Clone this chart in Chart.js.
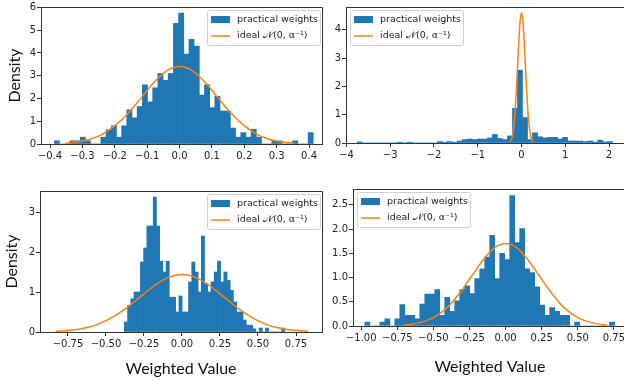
<!DOCTYPE html>
<html lang="en">
<head>
<meta charset="UTF-8" />
<title>Weight histograms</title>
<script src="https://cdn.jsdelivr.net/npm/chart.js@4.4.1/dist/chart.umd.min.js"></script>
<style>
  html, body { margin: 0; padding: 0; background: #fff; }
  body { width: 624px; height: 381px; overflow: hidden; position: relative; }
  canvas { position: absolute; }
</style>
</head>
<body>
<canvas id="c1" width="324" height="168" style="left:0;top:0"></canvas>
<canvas id="c2" width="327" height="168" style="left:300px;top:0"></canvas>
<canvas id="c3" width="324" height="211" style="left:0;top:170px"></canvas>
<canvas id="c4" width="307" height="211" style="left:320px;top:170px"></canvas>
<script>
// top-left panel
const binStartA = -0.387, binWidthA = 0.016;
const heightsA = [0.14, 0, 0, 0.14, 0.14, 0.3, 0.14, 0, 0, 0.3,
  0.62, 0.8, 0.3, 0.8, 1.5, 1.15, 1.65, 2.6, 1.85, 2.47,
  3.1, 2.8, 3.1, 5.3, 5.75, 3.95, 4.6, 4.3, 2.15, 2.6,
  1.6, 2.1, 1.45, 1.45, 0.7, 0.3, 0.5, 0.3, 0.65, 0.3,
  0, 0, 0.14, 0.14, 0, 0, 0.14, 0, 0, 0.5];
const curveXA = [-0.352, -0.313, -0.274, -0.235, -0.196, -0.156, -0.117, -0.078, -0.039, 0,
  0.039, 0.078, 0.117, 0.156, 0.196, 0.235, 0.274, 0.313, 0.352];
const curveYA = [0.04, 0.1, 0.22, 0.46, 0.85, 1.4, 2.06, 2.72, 3.22, 3.4,
  3.22, 2.72, 2.06, 1.4, 0.85, 0.46, 0.22, 0.1, 0.04];
const xTicksA = [-0.4, -0.3, -0.2, -0.1, 0, 0.1, 0.2, 0.3, 0.4];
const xLabelsA = ["\u22120.4", "\u22120.3", "\u22120.2", "\u22120.1", "0.0", "0.1", "0.2", "0.3", "0.4"];
const yTicksA = [0, 1, 2, 3, 4, 5, 6];
const yLabelsA = ["0", "1", "2", "3", "4", "5", "6"];

// top-right panel
const binStartB = -3.756, binWidthB = 0.1145;
const heightsB = [0.04, 0, 0, 0, 0, 0, 0, 0, 0.03, 0,
  0.03, 0, 0, 0, 0, 0, 0.05, 0.03, 0.05, 0.03,
  0.07, 0.12, 0.14, 0.12, 0.14, 0.14, 0.18, 0.3, 0.16, 0.12,
  0.25, 1.22, 2.57, 0.9, 0.12, 0.36, 0.22, 0.18, 0.2, 0.2,
  0.14, 0.2, 0.07, 0.07, 0.07, 0.05, 0.07, 0.03, 0.1, 0.04, 0.05];
const curveXB = [-0.26, -0.231, -0.202, -0.173, -0.145, -0.116, -0.087, -0.058, -0.029, 0,
  0.029, 0.058, 0.087, 0.116, 0.145, 0.173, 0.202, 0.231, 0.26];
const curveYB = [0.05, 0.13, 0.3, 0.62, 1.15, 1.89, 2.79, 3.68, 4.35, 4.6,
  4.35, 3.68, 2.79, 1.89, 1.15, 0.62, 0.3, 0.13, 0.05];
const xTicksB = [-4, -3, -2, -1, 0, 1, 2];
const xLabelsB = ["\u22124", "\u22123", "\u22122", "\u22121", "0", "1", "2"];
const yTicksB = [0, 1, 2, 3, 4];
const yLabelsB = ["0", "1", "2", "3", "4"];

// bottom-left panel
const binStartC = -0.379, binWidthC = 0.0211;
const heightsC = [0.25, 0.67, 0.83, 1.0, 1.0, 1.75, 2.1, 2.65, 2.65, 3.37,
  2.65, 1.77, 1.5, 1.77, 0.87, 0.87, 0.5, 0.9, 0.5, 0.5,
  1.25, 1.75, 1.5, 1.0, 2.4, 1.2, 1.0, 1.25, 1.5, 1.77,
  1.25, 1.5, 1.29, 1.04, 0.75, 0.5, 0.5, 0.3, 0.17, 0.17,
  0.08, 0, 0.1, 0, 0.1, 0, 0, 0, 0, 0.1];
const curveXC = [-0.831, -0.739, -0.646, -0.554, -0.462, -0.369, -0.277, -0.185, -0.092, 0,
  0.092, 0.185, 0.277, 0.369, 0.462, 0.554, 0.646, 0.739, 0.831];
const curveYC = [0.016, 0.041, 0.095, 0.19, 0.36, 0.59, 0.87, 1.15, 1.36, 1.44,
  1.36, 1.15, 0.87, 0.59, 0.36, 0.19, 0.095, 0.041, 0.016];
const xTicksC = [-0.75, -0.5, -0.25, 0, 0.25, 0.5, 0.75];
const xLabelsC = ["\u22120.75", "\u22120.50", "\u22120.25", "0.00", "0.25", "0.50", "0.75"];
const yTicksC = [0, 1, 2, 3];
const yLabelsC = ["0", "1", "2", "3"];

// bottom-right panel
const binStartD = -0.975, binWidthD = 0.0346;
const heightsD = [0.08, 0, 0, 0.08, 0.15, 0, 0.15, 0.44, 0.22, 0.22,
  0.15, 0.45, 0.66, 0.66, 0.75, 0.22, 0.59, 0.3, 0.52, 0.75,
  0.83, 0.67, 0.98, 1.18, 1.42, 1.87, 0.98, 1.5, 1.37, 2.69,
  1.72, 2.01, 1.18, 1.1, 0.81, 0.43, 0.22, 0.38, 0.3, 0.22,
  0.22, 0, 0.08, 0, 0, 0, 0, 0, 0, 0.08];
const curveXD = [-0.704, -0.626, -0.548, -0.469, -0.391, -0.313, -0.235, -0.156, -0.078, 0,
  0.078, 0.156, 0.235, 0.313, 0.391, 0.469, 0.548, 0.626, 0.704];
const curveYD = [0.019, 0.049, 0.11, 0.23, 0.42, 0.7, 1.03, 1.36, 1.61, 1.7,
  1.61, 1.36, 1.03, 0.7, 0.42, 0.23, 0.11, 0.049, 0.019];
const xTicksD = [-1, -0.75, -0.5, -0.25, 0, 0.25, 0.5, 0.75];
const xLabelsD = ["\u22121.00", "\u22120.75", "\u22120.50", "\u22120.25", "0.00", "0.25", "0.50", "0.75"];
const yTicksD = [0, 0.5, 1, 1.5, 2, 2.5];
const yLabelsD = ["0.0", "0.5", "1.0", "1.5", "2.0", "2.5"];

const barLabel = "practical weights";
const lineLabel = "ideal \u{1D4A9}(0, \u03B1\u207B\u00B9)";

const BLUE = "#1f77b4";
const ORANGE = "#ff7f0e";
const TICK_FONT = { family: "'DejaVu Sans'", size: 10 };
const TITLE_FONT = { family: "Lato", size: 16 };

// legend box inside the axes + top/right spines
const boxLegend = {
  id: "boxLegend",
  afterDraw(chart, args, opts) {
    const { ctx, chartArea: a } = chart;
    const al = (p) => Math.round(p - 0.5) + 0.5;
    ctx.save();
    ctx.strokeStyle = "#333";
    ctx.lineWidth = 1;
    ctx.beginPath();
    ctx.moveTo(al(a.left), al(a.top));
    ctx.lineTo(al(a.right), al(a.top));
    ctx.lineTo(al(a.right), al(a.bottom));
    ctx.stroke();

    const w = 113, h = 35;
    const x = opts.side === "right" ? a.right - w - 2 : a.left + 4;
    const y = a.top + 3;
    ctx.fillStyle = "rgba(255,255,255,0.85)";
    ctx.strokeStyle = "#d0d0d0";
    ctx.beginPath();
    ctx.roundRect(x + 0.5, y + 0.5, w, h, 2);
    ctx.fill();
    ctx.stroke();

    const ds = chart.data.datasets;
    ctx.fillStyle = ds[0].backgroundColor;
    ctx.fillRect(x + 4, y + 6, 19, 7);
    ctx.strokeStyle = ds[1].borderColor;
    ctx.lineWidth = 1.5;
    ctx.beginPath();
    ctx.moveTo(x + 4, y + 26);
    ctx.lineTo(x + 23, y + 26);
    ctx.stroke();

    ctx.fillStyle = "#222";
    ctx.font = "9.5px 'DejaVu Sans'";
    ctx.textBaseline = "middle";
    ctx.fillText(ds[0].label, x + 30, y + 9.5);
    ctx.fillText(ds[1].label, x + 30, y + 26);
    ctx.restore();
  },
};

function makeHist(id, p) {
  const bars = p.heights.map((v, i) => ({ x: p.binStart + p.binWidth * (i + 0.5), y: v }));
  const curve = p.curveX.map((v, i) => ({ x: v, y: p.curveY[i] }));
  return new Chart(document.getElementById(id), {
    type: "bar",
    data: {
      datasets: [
        {
          type: "bar",
          label: barLabel,
          data: bars,
          backgroundColor: BLUE,
          borderWidth: 0,
          barPercentage: 1,
          categoryPercentage: 1,
          order: 2,
        },
        {
          type: "line",
          label: lineLabel,
          data: curve,
          borderColor: ORANGE,
          borderWidth: 1.5,
          pointRadius: 0,
          cubicInterpolationMode: "monotone",
          fill: false,
          order: 1,
        },
      ],
    },
    options: {
      responsive: false,
      animation: false,
      events: [],
      layout: { padding: { top: p.padTop, right: p.padRight, left: 0, bottom: 0 } },
      plugins: {
        legend: { display: false },
        tooltip: { enabled: false },
        boxLegend: { side: p.legendSide },
      },
      scales: {
        x: {
          type: "linear",
          min: p.xMin,
          max: p.xMax,
          bounds: "data",
          offset: false,
          grid: { offset: false, drawOnChartArea: false, drawTicks: true, tickLength: 4, color: "#333" },
          border: { color: "#333", width: 1 },
          afterBuildTicks: (s) => { s.ticks = p.xTicks.map((v) => ({ value: v })); },
          afterFit: (s) => { s.height = p.xHeight; },
          ticks: {
            font: TICK_FONT,
            color: "#222",
            padding: 2,
            maxRotation: 0,
            autoSkip: false,
            callback: (v, i) => p.xLabels[i],
          },
          title: p.xTitle
            ? { display: true, text: p.xTitle, font: TITLE_FONT, color: "#111", padding: { top: 0, bottom: p.xTitlePad } }
            : { display: false },
        },
        y: {
          min: 0,
          max: p.yMax,
          bounds: "data",
          grid: { drawOnChartArea: false, drawTicks: true, tickLength: 4, color: "#333" },
          border: { color: "#333", width: 1 },
          afterBuildTicks: (s) => { s.ticks = p.yTicks.map((v) => ({ value: v })); },
          afterFit: (s) => { s.width = p.yWidth; },
          ticks: {
            font: TICK_FONT,
            color: "#222",
            padding: 1,
            autoSkip: false,
            callback: (v, i) => p.yLabels[i],
          },
          title: p.yTitle
            ? { display: true, text: p.yTitle, font: TITLE_FONT, color: "#111", padding: { top: p.yTitlePad, bottom: 0 } }
            : { display: false },
        },
      },
    },
    plugins: [boxLegend],
  });
}

makeHist("c1", {
  binStart: binStartA, binWidth: binWidthA, heights: heightsA,
  curveX: curveXA, curveY: curveYA,
  xTicks: xTicksA, xLabels: xLabelsA, yTicks: yTicksA, yLabels: yLabelsA,
  xMin: -0.428, xMax: 0.44, yMax: 6.02,
  padTop: 3, padRight: 2, yWidth: 41, xHeight: 24,
  yTitle: "Density", yTitlePad: 5, legendSide: "right",
});

makeHist("c2", {
  binStart: binStartB, binWidth: binWidthB, heights: heightsB,
  curveX: curveXB, curveY: curveYB,
  xTicks: xTicksB, xLabels: xLabelsB, yTicks: yTicksB, yLabels: yLabelsB,
  xMin: -4.01, xMax: 2.41, yMax: 4.8,
  padTop: 3, padRight: 0, yWidth: 46, xHeight: 25,
  legendSide: "left",
});

makeHist("c3", {
  binStart: binStartC, binWidth: binWidthC, heights: heightsC,
  curveX: curveXC, curveY: curveYC,
  xTicks: xTicksC, xLabels: xLabelsC, yTicks: yTicksC, yLabels: yLabelsC,
  xMin: -0.934, xMax: 0.921, yMax: 3.525,
  padTop: 21, padRight: 2, yWidth: 40, xHeight: 49,
  yTitle: "Density", yTitlePad: 2, xTitle: "Weighted Value", xTitlePad: 2.5,
  legendSide: "right",
});

makeHist("c4", {
  binStart: binStartD, binWidth: binWidthD, heights: heightsD,
  curveX: curveXD, curveY: curveYD,
  xTicks: xTicksD, xLabels: xLabelsD, yTicks: yTicksD, yLabels: yLabelsD,
  xMin: -1.057, xMax: 0.84, yMax: 2.825,
  padTop: 19, padRight: 0, yWidth: 33, xHeight: 55,
  xTitle: "Weighted Value", xTitlePad: 4.5,
  legendSide: "left",
});
</script>
</body>
</html>
